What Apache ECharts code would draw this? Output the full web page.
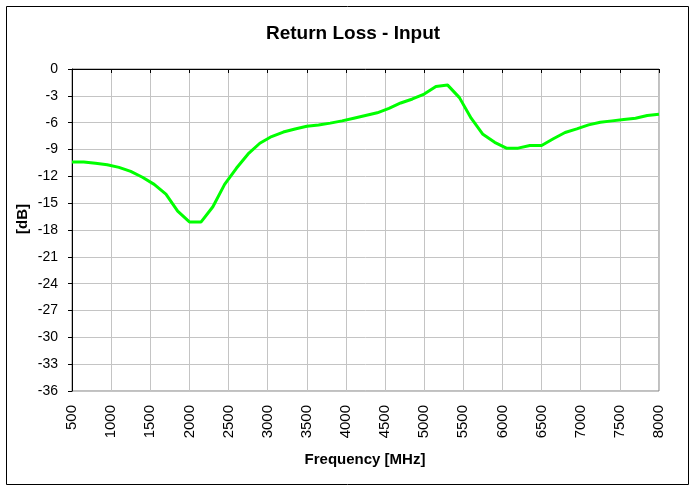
<!DOCTYPE html>
<html>
<head>
<meta charset="utf-8">
<script src="https://cdn.jsdelivr.net/npm/echarts@6/dist/echarts.min.js"></script>
<style>
  html, body { margin: 0; padding: 0; background: #fff; }
  #chart { width: 693px; height: 485px; }
</style>
</head>
<body>
<div id="chart"></div>
<script>
// frequency in MHz, return loss in dB
const freq = [500, 650, 800, 950, 1100, 1250, 1400, 1550, 1700, 1850,
  2000, 2150, 2300, 2450, 2600, 2750, 2900, 3050, 3200, 3350,
  3500, 3650, 3800, 3950, 4100, 4250, 4400, 4550, 4700, 4850,
  5000, 5150, 5300, 5450, 5600, 5750, 5900, 6050, 6200, 6350,
  6500, 6650, 6800, 6950, 7100, 7250, 7400, 7550, 7700, 7850, 8000];
const returnLoss = [-10.4, -10.4, -10.55, -10.7, -11.0, -11.45, -12.1, -12.9, -14.0, -15.9,
  -17.1, -17.1, -15.4, -12.9, -11.1, -9.5, -8.3, -7.55, -7.05, -6.7,
  -6.4, -6.25, -6.05, -5.8, -5.5, -5.2, -4.9, -4.4, -3.8, -3.35,
  -2.8, -1.95, -1.8, -3.2, -5.5, -7.3, -8.2, -8.85, -8.85, -8.55,
  -8.55, -7.8, -7.1, -6.7, -6.25, -5.95, -5.8, -5.65, -5.5, -5.2, -5.05];

const fontFam = 'Liberation Sans, Arial, sans-serif';

let myChart = echarts.init(document.getElementById('chart'));
let points = freq.map((f, i) => [f, returnLoss[i]]);

let option = {
    animation: false,
    backgroundColor: '#fff',
    grid: {
        left: 72,
        top: 69,
        right: 34,
        bottom: 94,
        show: true,
        borderColor: '#808080',
        borderWidth: 1
    },
    graphic: [
        {
            type: 'rect',
            shape: { x: 6.5, y: 6.5, width: 682, height: 478 },
            style: { fill: 'none', stroke: '#000', lineWidth: 1 },
            silent: true
        },
        {
            type: 'text',
            x: 353, y: 34,
            style: {
                text: 'Return Loss - Input',
                font: 'bold 19px ' + fontFam,
                fill: '#000',
                textAlign: 'center',
                textVerticalAlign: 'middle'
            }
        },
        {
            type: 'text',
            x: 365, y: 460,
            style: {
                text: 'Frequency [MHz]',
                font: 'bold 15px ' + fontFam,
                fill: '#000',
                textAlign: 'center',
                textVerticalAlign: 'middle'
            }
        },
        {
            type: 'text',
            x: 23, y: 219,
            rotation: Math.PI / 2,
            style: {
                text: '[dB]',
                font: 'bold 15px ' + fontFam,
                fill: '#000',
                textAlign: 'center',
                textVerticalAlign: 'middle'
            }
        }
    ],
    xAxis: {
        type: 'value',
        min: 500,
        max: 8000,
        interval: 500,
        axisLine: { show: true, lineStyle: { color: '#000', width: 1 } },
        axisTick: { show: true, length: 4, lineStyle: { color: '#000' } },
        axisLabel: {
            rotate: 90,
            margin: 14,
            color: '#000',
            fontSize: 15,
            fontFamily: fontFam,
            formatter: (v) => String(v)
        },
        splitLine: { show: true, lineStyle: { color: '#c4c4c4', width: 1 } }
    },
    yAxis: {
        type: 'value',
        min: -36,
        max: 0,
        interval: 3,
        axisLine: { show: true, lineStyle: { color: '#000', width: 1 } },
        axisTick: { show: true, length: 4, lineStyle: { color: '#000' } },
        axisLabel: {
            margin: 14,
            color: '#000',
            fontSize: 14,
            fontFamily: fontFam
        },
        splitLine: { show: true, lineStyle: { color: '#c4c4c4', width: 1 } }
    },
    series: [
        {
            name: 'Return Loss',
            type: 'line',
            data: points,
            showSymbol: false,
            symbol: 'none',
            lineStyle: { color: '#00ff00', width: 3 },
            z: 3
        }
    ]
};
myChart.setOption(option);
</script>
</body>
</html>
